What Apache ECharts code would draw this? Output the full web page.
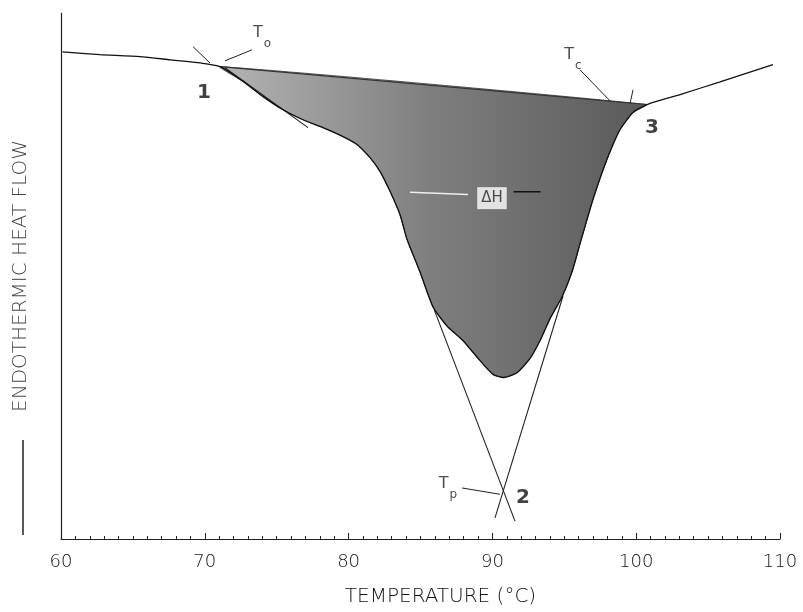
<!DOCTYPE html>
<html>
<head>
<meta charset="utf-8">
<script src="https://cdn.jsdelivr.net/npm/echarts@6/dist/echarts.min.js"></script>
<style>html,body{margin:0;padding:0;background:#fff}#chart{width:803px;height:612px}</style>
</head>
<body>
<div id="chart"></div>
<script>
// ---- data (temperature in °C, heat flow in arbitrary units 0..100) ----
const xTicks = [60, 70, 80, 90, 100, 110];
const curveX = [60.1, 62.7, 65.5, 67.6, 69.7, 71.06, 72.66, 74.05, 75.44, 76.83, 78.22, 79.61, 80.58, 81.49, 82.18, 82.88, 83.57, 84.06, 84.96, 85.87, 86.84, 87.96, 89.14, 90.04, 90.74, 91.71, 92.61, 93.31, 94.01, 94.84, 95.54, 96.09, 97.00, 97.97, 98.87, 99.78, 100.75, 103.05, 105.83, 109.51];
const curveY = [92.6, 92.1, 91.7, 91.1, 90.5, 89.8, 87.0, 84.1, 81.6, 79.7, 78.2, 76.5, 75.0, 72.5, 69.9, 66.1, 61.7, 57.0, 50.8, 44.1, 40.5, 37.7, 33.9, 31.3, 30.7, 31.6, 34.3, 37.7, 41.9, 46.0, 50.8, 56.1, 64.6, 72.2, 77.8, 81.1, 82.6, 84.5, 86.9, 90.2];
const onsetX = 71.06;   // point 1
const endX = 100.75;    // point 3
const baselineLine = [[71.06, 89.8], [100.75, 82.6]];
const leftTangent = [[85.95, 43.6], [91.57, 3.4]];
const rightTangent = [[94.91, 46.2], [90.18, 4.0]];
const onsetTangent = [[71.40, 89.6], [77.18, 78.2]];
const onsetTick = [[69.18, 93.6], [70.36, 90.5]];
const toLeader = [[71.40, 90.9], [73.28, 93.0]];
const tcLeader = [[96.09, 89.2], [98.18, 83.3]];
const tcTick = [[99.78, 85.4], [99.57, 82.8]];
const tpLeader = [[87.89, 9.7], [90.53, 8.5]];
const dhLeaderLeft = [[84.27, 65.9], [88.30, 65.5]];
const dhLeaderRight = [[91.47, 66.0], [93.35, 66.0]];
const annotX = [73.98, 95.60, 86.91, 69.94, 101.10, 92.13, 89.97];
const annotY = [96.2, 92.0, 10.4, 84.8, 78.2, 7.8, 64.8];
const annotText = ['{t|T}{s|o}', '{t|T}{s|c}', '{t|T}{s|p}', '1', '3', '2', 'ΔH'];
const annotKind = ['sub', 'sub', 'sub', 'num', 'num', 'num', 'box'];
// ---------------------------------------------------------------------

const curveData = curveX.map((x, i) => [x, curveY[i]]);
const shadeData = curveData.filter(d => d[0] >= onsetX && d[0] <= endX);

const ink = '#222';
function seg(data, width, color) {
  return { type: 'line', data: data, symbol: 'none', silent: true, z: 4,
    lineStyle: { color: color || ink, width: width || 1 } };
}
const labelStyles = {
  sub: { fontFamily: 'DejaVu Sans', color: '#222',
    rich: { t: { fontSize: 16, fontFamily: 'DejaVu Sans', color: '#222' },
            s: { fontSize: 12, fontFamily: 'DejaVu Sans', color: '#222', padding: [22, 0, 0, 1] } } },
  num: { fontFamily: 'DejaVu Sans', fontWeight: 'bold', fontSize: 20, color: '#111' },
  box: { fontFamily: 'DejaVu Sans', fontSize: 15, color: '#222', backgroundColor: '#fff', padding: [4, 4, 3, 4] }
};
const annotData = annotX.map((x, i) => ({
  value: [x, annotY[i]],
  label: Object.assign({ show: true, position: 'inside', formatter: annotText[i] }, labelStyles[annotKind[i]])
}));

const chart = echarts.init(document.getElementById('chart'), null, { renderer: 'canvas' });
chart.setOption({
  animation: false,
  backgroundColor: '#fff',
  grid: { left: 61, right: 23, top: 13, bottom: 71 },
  xAxis: {
    type: 'value', min: 60, max: 110, interval: 10,
    name: 'TEMPERATURE (°C)', nameLocation: 'middle', nameGap: 48,
    nameTextStyle: { fontFamily: 'DejaVu Sans', fontWeight: 200, fontSize: 20, color: '#111', padding: [0, 0, 0, 40] },
    axisLine: { show: true, lineStyle: { color: ink, width: 1.2 } },
    axisTick: { show: true, inside: true, length: 6, lineStyle: { color: ink } },
    minorTick: { show: true, splitNumber: 10, length: 3, lineStyle: { color: ink } },
    axisLabel: { margin: 14, fontFamily: 'DejaVu Sans', fontWeight: 200, fontSize: 18, color: '#111',
      formatter: v => (xTicks.indexOf(v) >= 0 ? String(v) : '') },
    splitLine: { show: false }
  },
  yAxis: {
    type: 'value', min: 0, max: 100,
    name: 'ENDOTHERMIC HEAT FLOW', nameLocation: 'middle', nameGap: 30, nameRotate: 90,
    nameTextStyle: { fontFamily: 'DejaVu Sans', fontWeight: 200, fontSize: 20, color: '#444' },
    axisLine: { show: true, lineStyle: { color: ink, width: 1.2 } },
    axisTick: { show: false }, axisLabel: { show: false }, splitLine: { show: false }
  },
  graphic: [
    { type: 'line', shape: { x1: 23, y1: 440, x2: 23, y2: 535 }, style: { stroke: '#222', lineWidth: 1.5 } }
  ],
  series: [
    {
      type: 'custom', data: shadeData, silent: true, z: 1,
      encode: { x: 0, y: 1 },
      renderItem: function (params, api) {
        if (params.dataIndex !== 0) return null;
        const pts = shadeData.map(d => api.coord(d));
        return { type: 'polygon', shape: { points: pts, smooth: 0.15 },
          style: { fill: new echarts.graphic.LinearGradient(0, 0, 1, 0, [
            { offset: 0, color: '#b4b4b4' }, { offset: 0.5, color: '#7e7e7e' }, { offset: 1, color: '#5a5a5a' }]),
            stroke: '#333', lineWidth: 0.8 } };
      }
    },
    { type: 'line', data: curveData, symbol: 'none', smooth: 0.2, silent: true, z: 5,
      lineStyle: { color: '#111', width: 1.3 } },
    seg(baselineLine, 1.2, '#333'),
    seg(leftTangent, 1.1), seg(rightTangent, 1.1), seg(onsetTangent, 1.1),
    seg(onsetTick, 1), seg(toLeader, 1), seg(tcLeader, 1), seg(tcTick, 1), seg(tpLeader, 1),
    seg(dhLeaderLeft, 1.5, '#eee'), seg(dhLeaderRight, 1.5, '#111'),
    { type: 'scatter', data: annotData, symbolSize: 0, silent: true, z: 10 }
  ]
});
</script>
</body>
</html>
